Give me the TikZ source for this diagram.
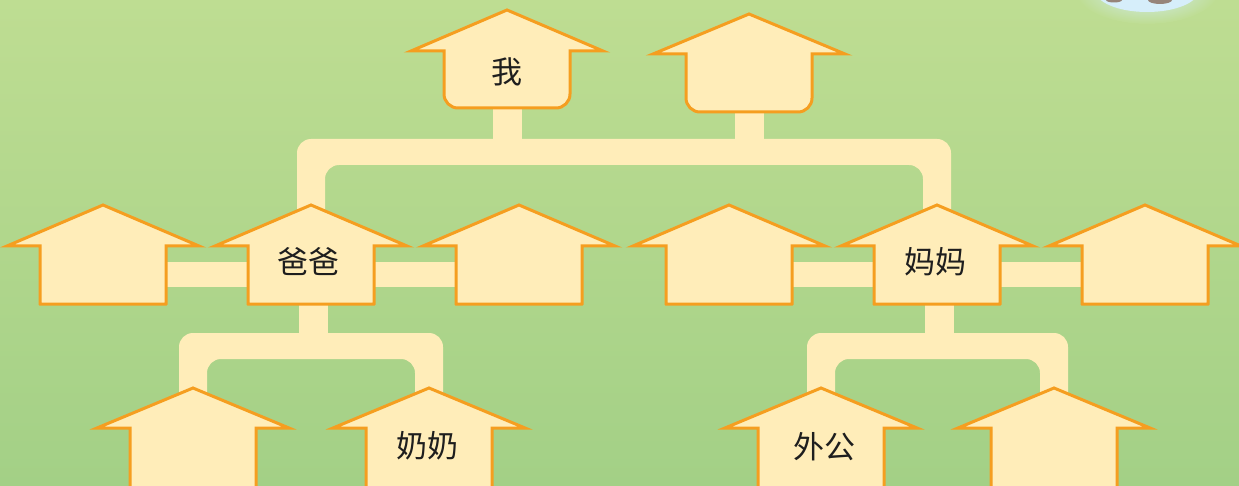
\documentclass[tikz,border=0pt]{standalone}
\usepackage{fontspec}
\newfontfamily\cjk{Noto Sans CJK SC}
\usetikzlibrary{calc}
\pgfdeclarelayer{bg}
\pgfdeclarelayer{bars}
\pgfsetlayers{bg,bars,main}
\definecolor{cream}{RGB}{255,237,185}
\definecolor{orng}{RGB}{245,158,32}
\definecolor{grnA}{RGB}{190,221,146}
\definecolor{grnB}{RGB}{163,208,134}
\definecolor{cloudc}{RGB}{214,238,250}
\definecolor{stone}{RGB}{150,132,122}
\definecolor{ink}{RGB}{30,30,30}
\tikzset{
  house/.style={fill=cream, draw=orng, line width=3pt, line join=miter},
  bodybox/.style={inner sep=0pt, minimum width=126pt, draw=none},
  lbl/.style={font=\cjk\fontsize{31}{31}\selectfont, text=ink, inner sep=0pt},
  barline/.style={draw=cream, line width=#1},
  barfill/.style={fill=cream, rounded corners=14pt},
}
% name, cx, apex y, roof base y, bottom y, bottom corner radius
\newcommand\House[6]{%
  \pgfmathsetmacro\hh{#5-#4}%
  \filldraw[house] (#2-96,#4) -- (#2,#3) -- (#2+96,#4) -- (#2+63,#4)
     -- (#2+63,#5-#6) arc[start angle=0, end angle=-90, radius=#6pt]
     -- (#2-63+#6,#5) arc[start angle=-90, end angle=-180, radius=#6pt]
     -- (#2-63,#4) -- cycle;
  \node[bodybox, minimum height=\hh pt] (#1) at (#2,{(#4+#5)/2}) {};
}
% left node, right node, top y, thickness, bottom y  (one U-shaped outline)
\newcommand\Bracket[5]{%
  \fill[barfill] let \p1=(#1.north), \p2=(#2.north) in
    (\x1-14pt,-#5pt) -- (\x1-14pt,-#3pt) -- (\x2+14pt,-#3pt) -- (\x2+14pt,-#5pt)
    -- (\x2-14pt,-#5pt) -- (\x2-14pt,-#3pt-#4pt) -- (\x1+14pt,-#3pt-#4pt) -- (\x1+14pt,-#5pt) -- cycle;
}
\begin{document}
\begin{tikzpicture}[x=1pt,y=-1pt]
\useasboundingbox (0,0) rectangle (1239,486);
\begin{pgfonlayer}{bg}
  \shade[top color=grnA, bottom color=grnB] (0,0) rectangle (1239,486);
  \shade[inner color=cloudc, outer color=grnA] (1147,-10) ellipse [x radius=72pt, y radius=34pt];
  \fill[cloudc] (1147,-10) ellipse [x radius=52pt, y radius=22pt];
  \fill[stone] (1114,0) ellipse [x radius=8pt, y radius=2.5pt];
  \fill[stone] (1160,0) ellipse [x radius=12pt, y radius=4pt];
\end{pgfonlayer}

% top row
\House{me}{507}{10}{51}{108}{14}
\House{top2}{749}{14}{54}{112}{14}
% middle row
\House{m1}{103}{205}{246}{304}{0.01}
\House{baba}{311}{205}{246}{304}{0.01}
\House{m3}{519}{205}{246}{304}{0.01}
\House{m4}{729}{205}{246}{304}{0.01}
\House{mama}{937}{205}{246}{304}{0.01}
\House{m6}{1145}{205}{246}{304}{0.01}
% bottom row
\House{b1}{193}{388}{428}{495}{0.01}
\House{nainai}{429}{388}{428}{495}{0.01}
\House{waigong}{821}{388}{428}{495}{0.01}
\House{b4}{1054}{388}{428}{495}{0.01}

% labels
\node[lbl] (t-me) at (507,72) {我};
\node[lbl] (t-baba) at (308,262) {爸爸};
\node[lbl] (t-mama) at (935,262) {妈妈};
\node[lbl] (t-nainai) at (427,446) {奶奶};
\node[lbl] (t-waigong) at (824,447) {外公};

\begin{pgfonlayer}{bars}
  % top stems
  \draw[barline=29pt] ([yshift=2pt]me.south) -- ++(0,36);
  \draw[barline=29pt] ([yshift=2pt]top2.south) -- ++(0,32);
  % top bracket
  \Bracket{baba}{mama}{139}{26}{236}
  % middle row links
  \draw[barline=25pt] ([xshift=-5pt]m1.east) -- ([xshift=5pt]baba.west);
  \draw[barline=25pt] ([xshift=-5pt]baba.east) -- ([xshift=5pt]m3.west);
  \draw[barline=25pt] ([xshift=-5pt]m4.east) -- ([xshift=5pt]mama.west);
  \draw[barline=25pt] ([xshift=-5pt]mama.east) -- ([xshift=5pt]m6.west);
  % lower stems
  \draw[barline=29pt] ([xshift=2pt,yshift=2pt]baba.south) -- ++(0,34);
  \draw[barline=29pt] ([xshift=2.5pt,yshift=2pt]mama.south) -- ++(0,34);
  % lower brackets
  \Bracket{b1}{nainai}{333}{26}{424}
  \Bracket{waigong}{b4}{333}{26}{424}
\end{pgfonlayer}
\end{tikzpicture}
\end{document}
